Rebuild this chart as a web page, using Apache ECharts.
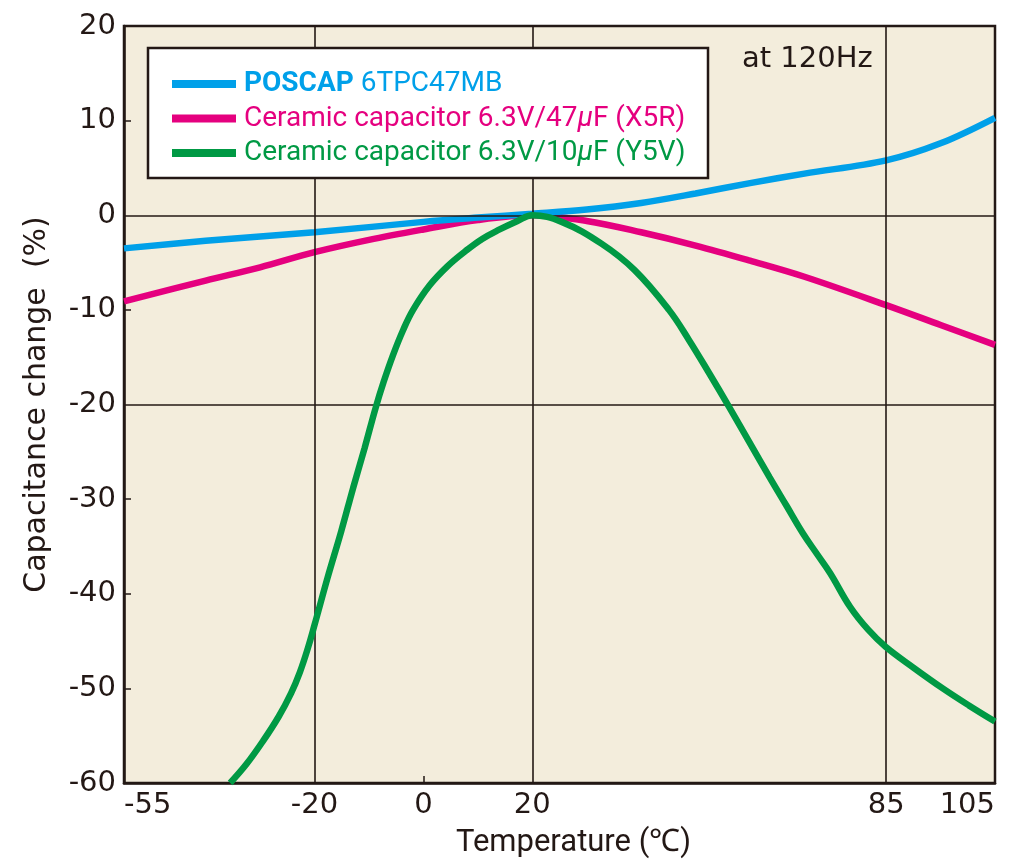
<!DOCTYPE html>
<html>
<head>
<meta charset="utf-8">
<script src="https://cdn.jsdelivr.net/npm/echarts@6/dist/echarts.min.js"></script>
<style>html,body{margin:0;padding:0;background:#fff}#c{width:1023px;height:865px}</style>
</head>
<body>
<div id="c"></div>
<script>
// ---- data ----
const xTickLabels = [-55, -20, 0, 20, 85, 105];
const xGridValues = [-20, 20, 85];
const yGridValues = [0, -20];
const yMinorTicks = [10, -10, -30, -40, -50];

const seriesNames = ['POSCAP 6TPC47MB', 'Ceramic capacitor 6.3V/47μF (X5R)', 'Ceramic capacitor 6.3V/10μF (Y5V)'];

const poscapTemp = [-55, -40, -20, 0, 10, 20, 30, 40, 50, 60, 70, 85, 95, 105];
const poscapVal  = [-3.5, -2.7, -1.8, -0.7, -0.25, 0.15, 0.6, 1.3, 2.3, 3.4, 4.4, 5.8, 7.6, 10.3];

const x5rTemp = [-55, -40, -30, -20, -10, 0, 10, 20, 30, 40, 50, 60, 70, 85, 95, 105];
const x5rVal  = [-9.1, -6.9, -5.5, -3.9, -2.6, -1.5, -0.5, 0, -0.6, -1.8, -3.2, -4.8, -6.5, -9.5, -11.6, -13.7];

const y5vTemp = [-35.5, -32.5, -29.5, -26.6, -24.3, -22.7, -21.25, -20, -17.6, -15.1, -12.9, -10.8, -8.8, -7.3, -5.6, -3.7, -1.9, 1.15, 4.4, 7.7, 10.8, 14, 17.3, 20, 25.4, 32.7, 38.8, 45.1, 48.8, 52.5, 56.2, 59.9, 63.6, 66.7, 69.7, 72.3, 74.7, 78.4, 81.7, 84.9, 90, 95.4, 100.2, 105];
const y5vVal  = [-60, -58, -55.6, -53, -50.5, -48.3, -45.8, -43.3, -38.3, -33.4, -28.8, -24.6, -20.4, -17.6, -14.8, -12.1, -10, -7.4, -5.4, -3.8, -2.5, -1.5, -0.6, 0, -0.7, -3.0, -5.8, -10, -13.2, -16.7, -20.3, -24, -27.7, -30.7, -33.6, -35.8, -37.8, -41.4, -43.8, -45.6, -47.8, -50, -51.8, -53.5];

const colors = ['#00a0e9', '#e5007f', '#009944'];
const ink = '#231815';
const FONT = 'Roboto';
const FONT2 = '"DejaVu Sans"';

function pairs(t, v) { return t.map((x, i) => [x, v[i]]); }

const chart = echarts.init(document.getElementById('c'), null, {renderer: 'canvas'});

const LF = 28;
const richLegend = {
  pb: {color: colors[0], fontWeight: 'bold', fontSize: LF, fontFamily: FONT},
  p:  {color: colors[0], fontSize: LF, fontFamily: FONT},
  m:  {color: colors[1], fontSize: LF, fontFamily: FONT},
  mi: {color: colors[1], fontSize: LF, fontFamily: FONT, fontStyle: 'italic'},
  g:  {color: colors[2], fontSize: LF, fontFamily: FONT},
  gi: {color: colors[2], fontSize: LF, fontFamily: FONT, fontStyle: 'italic'}
};

const option = {
  backgroundColor: '#ffffff',
  animation: false,
  grid: {
    left: 124, right: 28, top: 26, bottom: 82,
    show: true, backgroundColor: '#f3eddc', borderColor: ink, borderWidth: 2.5
  },
  xAxis: {
    type: 'value', min: -55, max: 105, interval: 5,
    name: 'Temperature (℃)', nameLocation: 'middle', nameGap: 45,
    nameTextStyle: {fontFamily: FONT, fontSize: 31, color: ink, padding: [0, 0, 0, 28]},
    axisLine: {show: true, onZero: false, lineStyle: {color: ink, width: 2.5}},
    axisTick: {show: true, inside: true, length: 7, customValues: [0], lineStyle: {color: ink, width: 1.5}},
    axisLabel: {
      customValues: xTickLabels, fontFamily: FONT2, fontSize: 29, color: ink, margin: 8,
      alignMinLabel: 'left', alignMaxLabel: 'right',
      showMinLabel: true, showMaxLabel: true
    },
    splitLine: {show: false}
  },
  yAxis: {
    type: 'value', min: -60, max: 20, interval: 10,
    name: 'Capacitance change  (%)', nameLocation: 'middle', nameGap: 72, nameRotate: 90,
    nameTextStyle: {fontFamily: FONT2, fontSize: 30, color: ink},
    axisLine: {show: true, onZero: false, lineStyle: {color: ink, width: 2.5}},
    axisTick: {show: true, inside: true, length: 7, customValues: yMinorTicks, lineStyle: {color: ink, width: 1.5}},
    axisLabel: {fontFamily: FONT2, fontSize: 29, color: ink, margin: 8},
    splitLine: {show: false}
  },
  legend: {
    orient: 'vertical', left: 167, top: 65, z: 20,
    icon: 'rect', itemWidth: 64, itemHeight: 8, itemGap: 6.5,
    textStyle: {fontFamily: FONT, fontSize: LF, lineHeight: 27, padding: [0, 0, 0, 3], rich: richLegend},
    formatter: function (name) {
      if (name === seriesNames[0]) return '{pb|POSCAP} {p|6TPC47MB}';
      if (name === seriesNames[1]) return '{m|Ceramic capacitor 6.3V/47}{mi|μ}{m|F (X5R)}';
      return '{g|Ceramic capacitor 6.3V/10}{gi|μ}{g|F (Y5V)}';
    },
    data: seriesNames.map((n, i) => ({name: n, textStyle: {color: colors[i]}}))
  },
  graphic: [
    {type: 'rect', z: 10, shape: {x: 148, y: 48, width: 560, height: 130},
     style: {fill: '#ffffff', stroke: ink, lineWidth: 2.5}},
    {type: 'text', z: 10, left: 742, top: 45,
     style: {text: 'at 120Hz', fontFamily: FONT2, fontSize: 29, fill: ink}}
  ],
  series: [
    {
      type: 'line', name: '__grid', data: [], z: 1, silent: true,
      markLine: {
        silent: true, symbol: 'none', animation: false,
        label: {show: false},
        lineStyle: {color: ink, width: 1.6, type: 'solid'},
        data: xGridValues.map(v => ({xAxis: v})).concat(yGridValues.map(v => ({yAxis: v})))
      }
    },
    {name: seriesNames[0], type: 'line', data: pairs(poscapTemp, poscapVal), smooth: 0.35, showSymbol: false, z: 4,
     lineStyle: {color: colors[0], width: 6.5}, itemStyle: {color: colors[0]}},
    {name: seriesNames[1], type: 'line', data: pairs(x5rTemp, x5rVal), smooth: 0.35, showSymbol: false, z: 3,
     lineStyle: {color: colors[1], width: 6.5}, itemStyle: {color: colors[1]}},
    {name: seriesNames[2], type: 'line', data: pairs(y5vTemp, y5vVal), smooth: 0.4, showSymbol: false, z: 5,
     lineStyle: {color: colors[2], width: 6.5}, itemStyle: {color: colors[2]}}
  ]
};
chart.setOption(option);
</script>
</body>
</html>
